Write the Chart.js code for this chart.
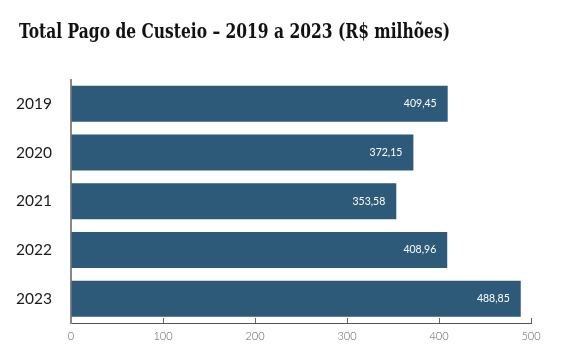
<!DOCTYPE html>
<html>
<head>
<meta charset="utf-8">
<script src="https://cdn.jsdelivr.net/npm/chart.js@4.4.0/dist/chart.umd.min.js"></script>
<style>
    html, body { margin: 0; padding: 0; background: #fff; }
    #wrap { width: 567px; height: 358px; }
</style>
</head>
<body>
<div id="wrap"><canvas id="myChart" width="567" height="358"></canvas></div>
<script>
"use strict";

var years = ['2019', '2020', '2021', '2022', '2023'];
var custeio = [409.45, 372.15, 353.58, 408.96, 488.85];
var xTicks = [0, 100, 200, 300, 400, 500];
var titleText = 'Total Pago de Custeio \u2013 2019 a 2023 (R$ milhões)';

// title drawn at a fixed left offset, squeezed a bit to mimic a condensed slab face
var leftTitle = {
    id: 'leftTitle',
    afterDraw: function (chart) {
        var ctx = chart.ctx;
        ctx.save();
        ctx.fillStyle = '#111111';
        ctx.font = 'bold 20px "DejaVu Serif"';
        ctx.textAlign = 'left';
        ctx.textBaseline = 'alphabetic';
        var w = ctx.measureText(titleText).width;
        var sx = 431 / w;
        ctx.translate(19, 38);
        ctx.scale(sx, 1);
        ctx.fillText(titleText, 0, 0);
        ctx.restore();
    }
};

// value labels drawn inside the end of each bar
var barLabels = {
    id: 'barLabels',
    afterDatasetsDraw: function (chart) {
        var ctx = chart.ctx;
        var meta = chart.getDatasetMeta(0);
        ctx.save();
        ctx.fillStyle = '#ffffff';
        ctx.font = '10.5px Lato';
        ctx.textAlign = 'right';
        ctx.textBaseline = 'middle';
        meta.data.forEach(function (bar, i) {
            var txt = custeio[i].toFixed(2).replace('.', ',');
            ctx.fillText(txt, bar.x - 11, bar.y);
        });
        ctx.restore();
    }
};

var ctx = document.getElementById('myChart').getContext('2d');
var myChart = new Chart(ctx, {
    type: 'bar',
    data: {
        labels: years,
        datasets: [{
            data: custeio,
            backgroundColor: '#2d5a79',
            borderWidth: 0,
            barPercentage: 0.74,
            categoryPercentage: 1
        }]
    },
    options: {
        indexAxis: 'y',
        responsive: false,
        animation: false,
        layout: {
            padding: { left: 2, right: 36, top: 79.5, bottom: 0 }
        },
        plugins: {
            legend: { display: false },
            tooltip: { enabled: false },
            title: { display: false }
        },
        scales: {
            x: {
                min: 0,
                max: 500,
                afterBuildTicks: function (scale) {
                    scale.ticks = xTicks.map(function (v) { return { value: v }; });
                },
                grid: {
                    display: true,
                    drawOnChartArea: false,
                    drawTicks: true,
                    tickLength: -5,
                    color: '#666666'
                },
                border: { display: true, color: '#555555', width: 1 },
                ticks: {
                    color: '#5e5e5e',
                    padding: 12,
                    font: { family: 'Lato', size: 11, weight: 300 }
                },
                afterFit: function (scale) { scale.height = 35; }
            },
            y: {
                grid: { display: false, drawTicks: false },
                border: { display: true, color: '#888888', width: 2 },
                ticks: {
                    color: '#1a1a1a',
                    padding: 19,
                    font: { family: 'Lato', size: 15.5 }
                },
                afterFit: function (scale) { scale.width = 69; }
            }
        }
    },
    plugins: [barLabels, leftTitle]
});
</script>
</body>
</html>
